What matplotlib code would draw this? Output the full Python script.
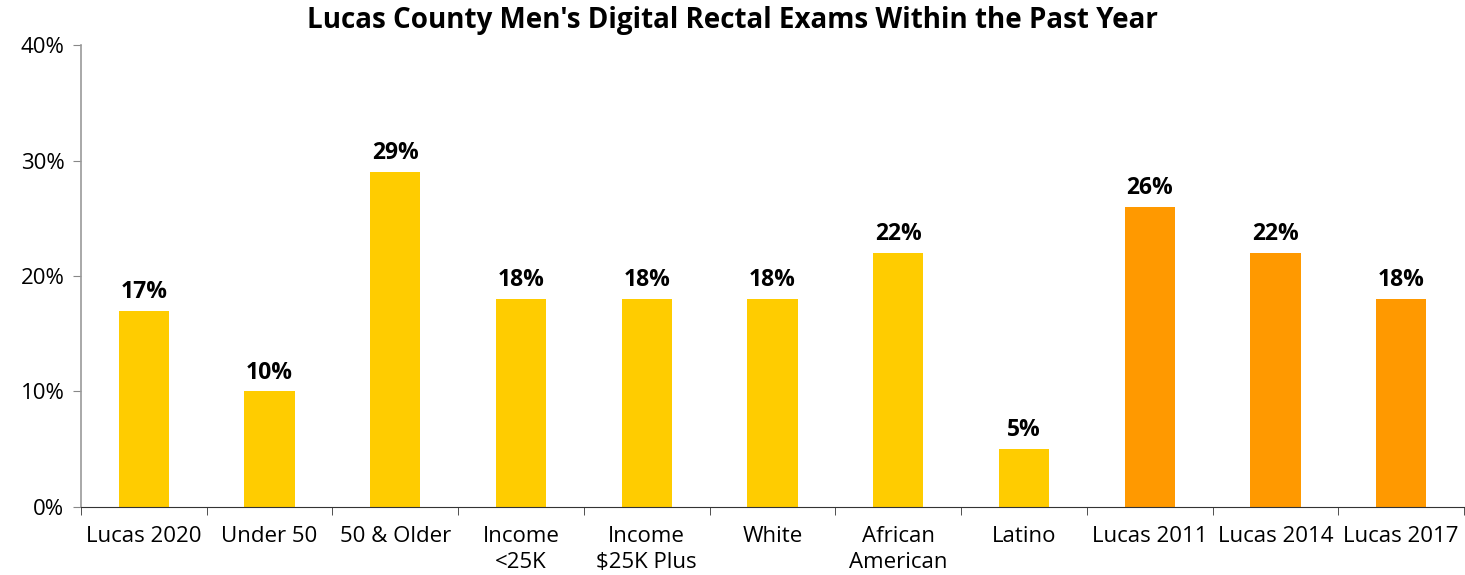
import numpy as np
import matplotlib.pyplot as plt
from matplotlib.ticker import FixedLocator, PercentFormatter

plt.rcParams['font.family'] = ['Open Sans', 'DejaVu Sans']

# Data
categories = ["Lucas 2020", "Under 50", "50 & Older", "Income\n<25K", "Income\n$25K Plus",
              "White", "African\nAmerican", "Latino", "Lucas 2011", "Lucas 2014", "Lucas 2017"]
values = [17, 10, 29, 18, 18, 18, 22, 5, 26, 22, 18]
colors = ['#FFCC00'] * 8 + ['#FF9900'] * 3

fig = plt.figure(figsize=(14.65, 5.75), dpi=100)
ax = fig.add_axes([0.0553, 0.1183, 0.944, 0.8034])

x = np.arange(len(categories))
bars = ax.bar(x, values, width=0.4, color=colors, zorder=2)

for xi, v in zip(x, values):
    ax.text(xi, v + 0.6, f"{v}%", ha='center', va='bottom',
            fontsize=16.5, fontweight='bold', color='black')

ax.set_xlim(-0.5, len(categories) - 0.5)
ax.set_ylim(0, 40)
ax.set_yticks([0, 10, 20, 30, 40])
ax.yaxis.set_major_formatter(PercentFormatter(decimals=0))
ax.tick_params(axis='y', labelsize=16, length=6, color='#888888', pad=6)

ax.set_xticks(x)
ax.set_xticklabels(categories, fontsize=16, linespacing=1.3, va='top')
ax.tick_params(axis='x', which='major', length=0, pad=14)
ax.xaxis.set_minor_locator(FixedLocator(np.arange(-0.5, len(categories), 1.0)))
ax.tick_params(axis='x', which='minor', length=6, color='#333333')

for s in ['top', 'right']:
    ax.spines[s].set_visible(False)
ax.spines['left'].set_color('#999999')
ax.spines['left'].set_linewidth(1.2)
ax.spines['bottom'].set_color('#333333')

fig.suptitle("Lucas County Men's Digital Rectal Exams Within the Past Year",
             fontsize=20, fontweight='bold', y=0.99, x=0.50)

fig.savefig("out.png", dpi=100)
